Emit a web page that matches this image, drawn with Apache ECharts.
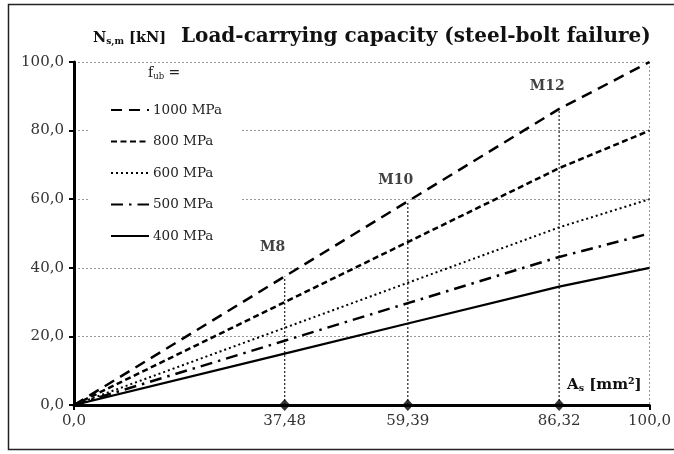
<!DOCTYPE html>
<html><head><meta charset="utf-8">
<script src="https://cdn.jsdelivr.net/npm/echarts@6/dist/echarts.min.js"></script>
<style>html,body{margin:0;padding:0;background:#fff}#c{width:674px;height:454px}</style>
</head><body><div id="c"></div>
<script>
// x positions of the points as drawn (last point sits at the right end of the axis)
var xMax = 102.4;
var xValues = [0, 37.48, 59.39, 86.32, 102.4];
var xTickLabels = ['0,0', '37,48', '59,39', '86,32', '100,0'];
// series values N_s,m [kN] at xValues
var s1000 = [0, 37.48, 59.39, 86.32, 100.0];
var s800  = [0, 29.98, 47.51, 69.06, 80.0];
var s600  = [0, 22.49, 35.63, 51.79, 60.0];
var s500  = [0, 18.74, 29.70, 43.16, 50.0];
var s400  = [0, 14.99, 23.76, 34.53, 40.0];
var seriesNames = ['1000 MPa', '800 MPa', '600 MPa', '500 MPa', '400 MPa'];
// bolts
var boltNames = ['M8', 'M10', 'M12'];
var boltAs = [37.48, 59.39, 86.32];
var boltTop = [37.48, 59.39, 86.32];
var boltLabelLift = [-17, -9, -11];

var serif = '"DejaVu Serif", "Liberation Serif", serif';
function pairs(arr){ return xValues.map(function(x,i){return [x, arr[i]];}); }

var lineStyles = [
  {type:[11,7], width:2.5},
  {type:[6,3.5], width:2.5},
  {type:[2,3], width:2},
  {type:[12,6,2.5,6], width:2.5},
  {type:'solid', width:2.2}
];
var data = [s1000, s800, s600, s500, s400];
var series = data.map(function(d,i){
  return {name: seriesNames[i], type:'line', data: pairs(d), showSymbol:false, symbol:'none',
    itemStyle:{color:'#000'},
    lineStyle: {color:'#000', width: lineStyles[i].width, type: lineStyles[i].type}, z:3};
});
boltAs.forEach(function(x,i){
  series.push({type:'line', data:[[x,0],[x,boltTop[i]]], showSymbol:false, symbol:'none', silent:true,
    lineStyle:{color:'#333', width:1.3, type:[2,2]}, z:2});
});
series.push({type:'scatter', data: boltAs.map(function(x){return [x,0];}), symbol:'diamond', symbolSize:[11,12],
  itemStyle:{color:'#000'}, z:5, silent:true});
series.push({type:'scatter', symbolSize:0, silent:true,
  data: boltAs.map(function(x,i){return {value:[x, boltTop[i]], label:{offset:[-12, boltLabelLift[i]]}};}),
  label:{show:true, position:'top', formatter:function(p){return boltNames[p.dataIndex];},
    fontFamily:serif, fontWeight:'bold', fontSize:14, color:'#111'}, z:6});

var chart = echarts.init(document.getElementById('c'));
chart.setOption({
  backgroundColor:'#fff',
  animation:false,
  grid:{left:74, right:23, top:62, bottom:49},
  title:[
    {text:'Load-carrying capacity (steel-bolt failure)', left:176, top:22,
      textStyle:{fontFamily:serif, fontWeight:'bold', fontSize:20, color:'#111'}},
    {text:'{a|N}{b|s,m}{a| [kN]}', left:88, top:23,
      textStyle:{rich:{a:{fontFamily:serif, fontWeight:'bold', fontSize:14.5, color:'#111', lineHeight:20},
        b:{fontFamily:serif, fontWeight:'bold', fontSize:9, color:'#111', lineHeight:20, padding:[8,0,0,0]}}}},
    {text:'{a|f}{b|ub}{a| =}', left:143, top:58, z:10,
      textStyle:{rich:{a:{fontFamily:serif, fontWeight:'normal', fontSize:14, color:'#222', lineHeight:20},
        b:{fontFamily:serif, fontWeight:'normal', fontSize:8.5, color:'#222', lineHeight:20, padding:[7,0,0,0]}}}},
    {text:'{a|A}{b|s}{a| [mm²]}', left:562, top:370,
      textStyle:{rich:{a:{fontFamily:serif, fontWeight:'bold', fontSize:15, color:'#111', lineHeight:20},
        b:{fontFamily:serif, fontWeight:'bold', fontSize:9.5, color:'#111', lineHeight:20, padding:[8,0,0,0]}}}}
  ],
  legend:{
    data: seriesNames, orient:'vertical', left:90, top:65,
    padding:[38,20,8,20], backgroundColor:'#fff',
    itemWidth:38, itemHeight:14, itemGap:17.5,
    itemStyle:{opacity:0},
    textStyle:{fontFamily:serif, fontSize:13.5, color:'#222', padding:[0,0,0,-1]}
  },
  xAxis:{
    type:'value', min:0, max:xMax, interval:xMax,
    axisLine:{show:true, lineStyle:{color:'#000', width:3}},
    axisTick:{show:true, length:5, lineStyle:{color:'#000', width:2}},
    axisLabel:{customValues: xValues, formatter:function(v){var i=xValues.indexOf(v);return i>=0?xTickLabels[i]:'';},
      fontFamily:serif, fontSize:15, color:'#333', margin:9},
    splitLine:{show:true, lineStyle:{color:'#999', type:[2,2], width:1}}
  },
  yAxis:{
    type:'value', min:0, max:100, interval:20,
    axisLine:{show:true, lineStyle:{color:'#000', width:3}},
    axisTick:{show:true, length:5, lineStyle:{color:'#000', width:2}},
    axisLabel:{formatter:function(v){return v.toFixed(1).replace('.',',');}, fontFamily:serif, fontSize:15, color:'#333', margin:10},
    splitLine:{show:true, lineStyle:{color:'#999', type:[2,2], width:1}}
  },
  graphic:[{type:'rect', shape:{x:8.5,y:4.5,width:670,height:445}, style:{fill:'none', stroke:'#222', lineWidth:1.5}, silent:true, z:-1}],
  series: series
});
</script></body></html>
